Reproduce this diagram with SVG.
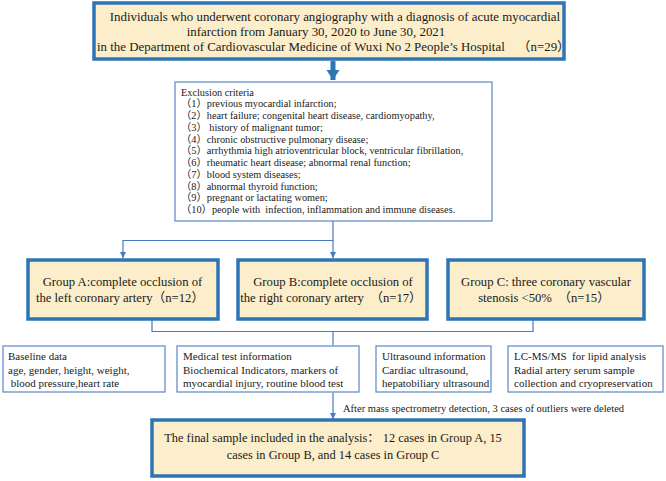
<svg xmlns="http://www.w3.org/2000/svg" width="666" height="481" viewBox="0 0 666 481">
<defs>
<style>
text{font-family:"Liberation Serif","Times New Roman","Noto Sans CJK SC",serif;fill:#1a1a1a;white-space:pre}
.yb{fill:#FCEECA;stroke:#2E75B6;stroke-width:3.5}
.wb{fill:#FFFFFF;stroke:#5B87C9;stroke-width:1.2}
.c{fill:none;stroke:#4A78C2;stroke-width:1.2}
.top{font-size:12.9px}
.ex{font-size:10.3px}
.g{font-size:12.7px;text-anchor:middle}
.s{font-size:11px}
.f{font-size:12.4px;text-anchor:middle}
.note{font-size:10.5px}
</style>
<marker id="ah" markerUnits="userSpaceOnUse" markerWidth="8" markerHeight="8" refX="6" refY="4" orient="auto">
<path d="M0,1 L6,4 L0,7 Z" fill="#4A78C2"/>
</marker>
<marker id="bh" markerUnits="userSpaceOnUse" markerWidth="14" markerHeight="14" refX="10" refY="7" orient="auto">
<path d="M0,0.5 L10,7 L0,13.5 Z" fill="#2E75B6"/>
</marker>
</defs>

<g id="connectors">
<line x1="333" y1="61" x2="333" y2="80" stroke="#2E75B6" stroke-width="5" marker-end="url(#bh)"/>
<polyline class="c" points="333,221 333,240.5 123,240.5 123,258" marker-end="url(#ah)"/>
<line class="c" x1="333" y1="240.5" x2="333" y2="258" marker-end="url(#ah)"/>
<polyline class="c" points="152,320 152,331.5 533,331.5 533,320"/>
<line class="c" x1="333" y1="331.5" x2="333" y2="345.5"/>
<line class="c" x1="333" y1="392.5" x2="333" y2="419" marker-end="url(#ah)"/>
</g>

<g id="source">
<rect class="yb" x="94" y="3" width="470" height="56"/>
<text class="top" x="335" y="21" text-anchor="middle">Individuals who underwent coronary angiography with a diagnosis of acute myocardial</text>
<text class="top" x="316" y="36" text-anchor="middle">infarction from January 30, 2020 to June 30, 2021</text>
<text class="top" x="97" y="51">in the Department of Cardiovascular Medicine of Wuxi No 2 People’s Hospital    （n=29）</text>
</g>

<g id="exclusion">
<rect class="wb" x="175" y="82" width="317" height="139"/>
<text class="ex" x="181" y="95.5">Exclusion criteria</text>
<text class="ex" x="181" y="107.2">（1）previous myocardial infarction;</text>
<text class="ex" x="181" y="119">（2）heart failure; congenital heart disease, cardiomyopathy,</text>
<text class="ex" x="181" y="130.7">（3） history of malignant tumor;</text>
<text class="ex" x="181" y="142.5">（4）chronic obstructive pulmonary disease;</text>
<text class="ex" x="181" y="154.2">（5）arrhythmia high atrioventricular block, ventricular fibrillation,</text>
<text class="ex" x="181" y="166">（6）rheumatic heart disease; abnormal renal function;</text>
<text class="ex" x="181" y="177.7">（7）blood system diseases;</text>
<text class="ex" x="181" y="189.5">（8）abnormal thyroid function;</text>
<text class="ex" x="181" y="201.2">（9）pregnant or lactating women;</text>
<text class="ex" x="181" y="213">（10）people with  infection, inflammation and immune diseases.</text>
</g>

<g id="groupA">
<rect class="yb" x="28" y="260" width="190" height="59"/>
<text class="g" x="122.5" y="285.5">Group A:complete occlusion of</text>
<text class="g" x="120" y="301.5">the left coronary artery（n=12）</text>
</g>

<g id="groupB">
<rect class="yb" x="238" y="260" width="189" height="59"/>
<text class="g" x="333" y="286">Group B:complete occlusion of</text>
<text class="g" x="331" y="302">the right coronary artery  （n=17）</text>
</g>

<g id="groupC">
<rect class="yb" x="448" y="260" width="196" height="59"/>
<text class="g" x="546" y="286">Group C: three coronary vascular</text>
<text class="g" x="544" y="302">stenosis &lt;50%  （n=15）</text>
</g>

<g id="baseline">
<rect class="wb" x="3" y="346" width="162" height="46"/>
<text class="s" x="8" y="360">Baseline data</text>
<text class="s" x="8" y="373.5">age, gender, height, weight,</text>
<text class="s" x="8" y="387"> blood pressure,heart rate</text>
</g>

<g id="medical">
<rect class="wb" x="177" y="346" width="182" height="46"/>
<text class="s" x="183" y="360">Medical test information</text>
<text class="s" x="183" y="373.5">Biochemical Indicators, markers of</text>
<text class="s" x="183" y="387">myocardial injury, routine blood test</text>
</g>

<g id="ultrasound">
<rect class="wb" x="376" y="346" width="115" height="46"/>
<text class="s" x="382" y="360">Ultrasound information</text>
<text class="s" x="382" y="373.5">Cardiac ultrasound,</text>
<text class="s" x="382" y="387">hepatobiliary ultrasound</text>
</g>

<g id="lcms">
<rect class="wb" x="508" y="346" width="155" height="46"/>
<text class="s" x="514" y="360">LC-MS/MS  for lipid analysis</text>
<text class="s" x="514" y="373.5">Radial artery serum sample</text>
<text class="s" x="514" y="387">collection and cryopreservation</text>
</g>

<text class="note" x="343" y="411.5">After mass spectrometry detection, 3 cases of outliers were deleted</text>

<g id="final">
<rect class="yb" x="152" y="420" width="372" height="56"/>
<text class="f" x="333" y="442">The final sample included in the analysis： 12 cases in Group A, 15</text>
<text class="f" x="333" y="459">cases in Group B, and 14 cases in Group C</text>
</g>
</svg>
